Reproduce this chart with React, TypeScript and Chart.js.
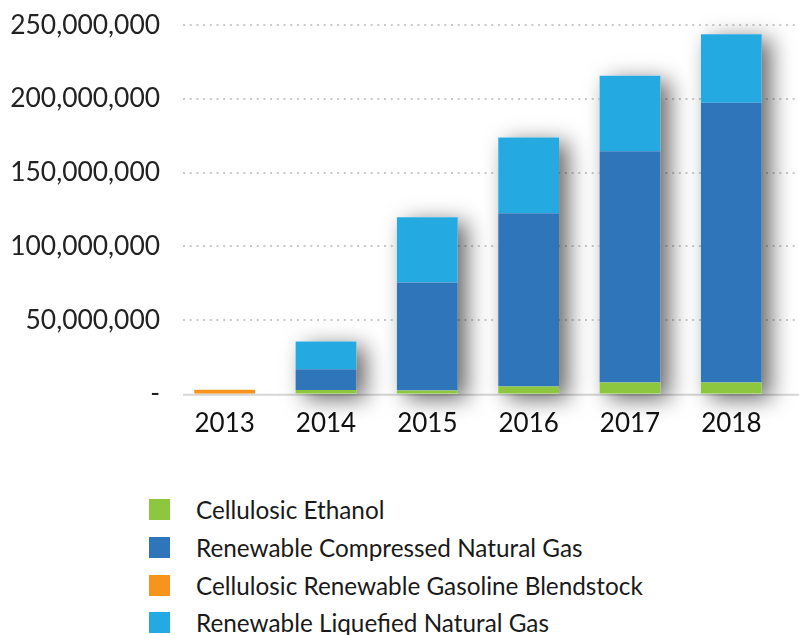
import React, { useEffect, useRef } from "react";
import { Chart, registerables } from "chart.js";

Chart.register(...registerables);

const years = ["2013", "2014", "2015", "2016", "2017", "2018"];
const cellulosicEthanol = [0, 2500000, 2300000, 5000000, 7700000, 7700000];
const renewableCNG = [0, 14200000, 73200000, 117400000, 156700000, 189600000];
const cellulosicGasoline = [2800000, 0, 0, 0, 0, 0];
const renewableLNG = [0, 18700000, 44200000, 51300000, 51200000, 46400000];

const seriesNames = [
  "Cellulosic Ethanol",
  "Renewable Compressed Natural Gas",
  "Cellulosic Renewable Gasoline Blendstock",
  "Renewable Liquefied Natural Gas",
];
const seriesColors = ["#8DC63F", "#2E75BA", "#F7941D", "#25A9E1"];
const yTicks = [0, 50000000, 100000000, 150000000, 200000000, 250000000];

const FONT = "Lato, 'Noto Sans', sans-serif";

const gridPlugin = {
  id: "extendedGrid",
  beforeDatasetsDraw(chart: any) {
    const { ctx } = chart;
    const y = chart.scales.y;
    const x0 = 183;
    const x1 = chart.width;
    ctx.save();
    ctx.strokeStyle = "#c9c9c9";
    ctx.lineWidth = 2;
    ctx.setLineDash([2, 4.7]);
    y.ticks.forEach((t: any) => {
      if (t.value === 0) return;
      const py = Math.round(y.getPixelForValue(t.value));
      ctx.beginPath();
      ctx.moveTo(x0, py);
      ctx.lineTo(x1, py);
      ctx.stroke();
    });
    ctx.setLineDash([]);
    ctx.strokeStyle = "#d6d6d6";
    ctx.lineWidth = 2;
    const base = y.getPixelForValue(0);
    ctx.beginPath();
    ctx.moveTo(x0, base + 1);
    ctx.lineTo(x1, base + 1);
    ctx.stroke();

    const meta = chart.getDatasetMeta(0);
    const xs = chart.scales.x;
    years.forEach((_, i) => {
      const total =
        cellulosicEthanol[i] + renewableCNG[i] + cellulosicGasoline[i] + renewableLNG[i];
      if (total < 10000000) return;
      const top = y.getPixelForValue(total);
      const w = meta.data[i] ? meta.data[i].width : 60;
      const cx = xs.getPixelForValue(i);
      ctx.save();
      ctx.shadowColor = "rgba(0,0,0,0.6)";
      ctx.shadowBlur = 22;
      ctx.shadowOffsetX = 9;
      ctx.shadowOffsetY = 5;
      ctx.fillStyle = "#ffffff";
      ctx.fillRect(cx - w / 2, top, w, base - top);
      ctx.restore();
    });
    ctx.restore();
  },
};

export default function App() {
  const canvasRef = useRef<HTMLCanvasElement | null>(null);

  useEffect(() => {
    if (!canvasRef.current) return;
    const data = [cellulosicEthanol, renewableCNG, cellulosicGasoline, renewableLNG];
    const chart = new Chart(canvasRef.current, {
      type: "bar",
      data: {
        labels: years,
        datasets: data.map((d, i) => ({
          label: seriesNames[i],
          data: d,
          backgroundColor: seriesColors[i],
          borderWidth: 0,
          barPercentage: 0.6,
          categoryPercentage: 1,
        })),
      },
      plugins: [gridPlugin],
      options: {
        responsive: false,
        animation: false,
        layout: { padding: { left: 10, right: 17, top: 25, bottom: 2 } },
        plugins: {
          legend: { display: false },
          tooltip: { enabled: false },
        },
        scales: {
          x: {
            stacked: true,
            grid: { display: false, drawTicks: false },
            border: { display: false },
            ticks: {
              color: "#111111",
              padding: 14,
              font: { family: FONT, size: 26 },
            },
          },
          y: {
            stacked: true,
            min: 0,
            max: 250000000,
            afterBuildTicks: (scale: any) => {
              scale.ticks = yTicks.map((v) => ({ value: v }));
            },
            afterFit: (scale: any) => {
              scale.width = 164;
            },
            grid: { display: false, drawTicks: false },
            border: { display: false },
            ticks: {
              color: "#222222",
              padding: 14,
              font: { family: FONT, size: 26.4, lineHeight: 0.6 },
              callback: (v: any) => (Number(v) === 0 ? "-" : Number(v).toLocaleString("en-US")),
            },
          },
        },
      },
    });
    return () => chart.destroy();
  }, []);

  return (
    <div style={{ position: "absolute", left: 0, top: 0, width: 799, height: 635, background: "#fff" }}>
      <canvas ref={canvasRef} width={799} height={455} style={{ display: "block" }} />
      {seriesNames.map((name, i) => (
        <div
          key={name}
          style={{
            position: "absolute",
            left: 149,
            top: [509, 547, 585, 622][i] - 15,
            height: 30,
            display: "flex",
            alignItems: "center",
            fontFamily: FONT,
            fontSize: 24.3,
            color: "#1a1a1a",
            whiteSpace: "nowrap",
          }}
        >
          <span
            style={{
              display: "inline-block",
              width: 21,
              height: 21,
              background: seriesColors[i],
              marginRight: 26,
            }}
          />
          <span>{name}</span>
        </div>
      ))}
    </div>
  );
}
